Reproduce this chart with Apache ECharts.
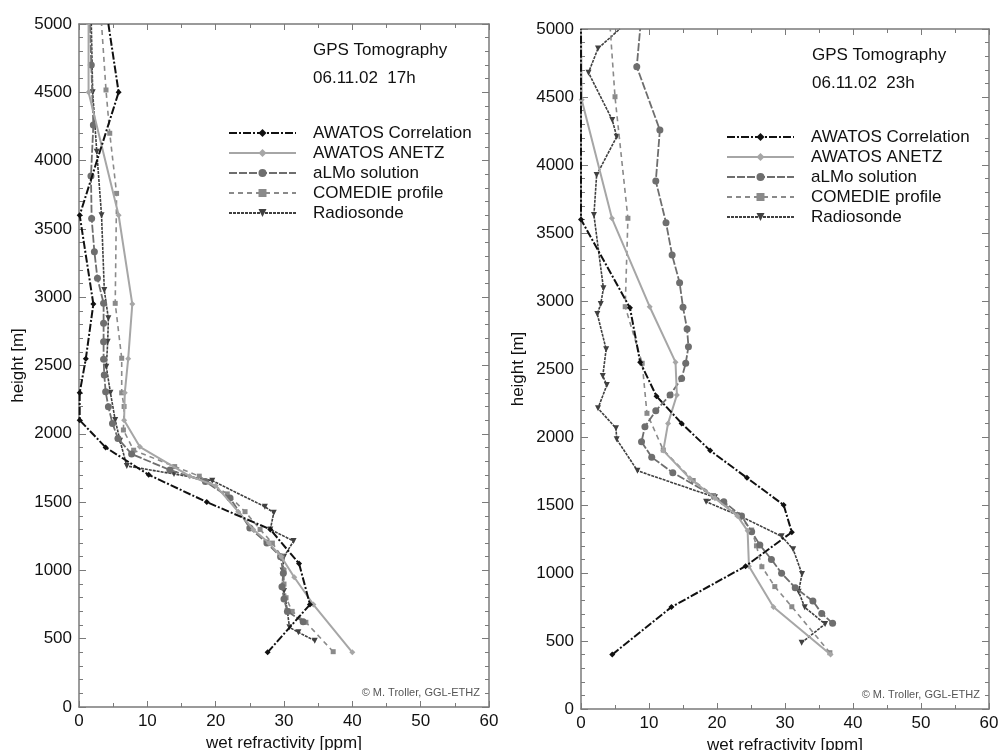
<!DOCTYPE html>
<html lang="en">
  <head>
    <meta charset="UTF-8" />
    <title>GPS Tomography</title>
    <script src="https://cdn.jsdelivr.net/npm/echarts@6/dist/echarts.min.js"></script>
  </head>
  <body style="margin: 0">
    <div id="main" style="width: 1001px; height: 750px"></div>

    <script>
      // 图例名称
      const seriesNames = ['AWATOS Correlation', 'AWATOS ANETZ', 'aLMo solution', 'COMEDIE profile', 'Radiosonde']
      const xTicks = [0, 10, 20, 30, 40, 50, 60]
      const yTicks = [0, 500, 1000, 1500, 2000, 2500, 3000, 3500, 4000, 4500, 5000]

      // 06.11.02 17h  [wet refractivity ppm, height m]
      const corr17 = [[27.6, 400], [33.8, 750], [32.2, 1050], [28.0, 1300], [18.7, 1500], [10.2, 1700], [3.9, 1900], [0.1, 2100], [0.1, 2300], [1.0, 2550], [2.1, 2950], [0.1, 3600], [5.8, 4500], [4.3, 5000]]
      const anetz17 = [[40.0, 400], [34.3, 750], [31.5, 950], [29.6, 1100], [27.8, 1200], [25.5, 1300], [23.3, 1430], [20.0, 1620], [16.2, 1690], [8.9, 1905], [6.6, 2100], [6.7, 2300], [7.2, 2550], [7.8, 2950], [5.8, 3600], [1.4, 4500], [1.4, 5000]]
      const almo17 = [[32.8, 625], [30.5, 700], [30.0, 790], [29.7, 880], [29.9, 980], [29.5, 1100], [27.5, 1200], [25.0, 1310], [22.1, 1530], [18.5, 1650], [13.3, 1735], [7.7, 1852], [5.7, 1966], [4.9, 2076], [4.3, 2198], [3.9, 2308], [3.7, 2430], [3.6, 2545], [3.6, 2674], [3.6, 2809], [3.6, 2955], [2.7, 3138], [2.25, 3333], [1.85, 3577], [1.75, 3887], [2.1, 4260], [1.8, 4700], [1.6, 5000]]
      const comedie17 = [[37.2, 405], [33.2, 620], [31.2, 700], [30.3, 800], [30.0, 900], [30.0, 1000], [29.7, 1100], [28.3, 1200], [26.5, 1300], [24.3, 1430], [21.7, 1560], [17.6, 1690], [14.0, 1760], [8.0, 1880], [6.5, 2028], [6.6, 2200], [6.25, 2300], [6.25, 2553], [5.3, 2955], [5.5, 3760], [4.5, 4200], [3.95, 4517], [3.3, 5000]]
      const sonde17 = [[34.5, 485], [32.1, 547], [30.8, 583], [30.5, 700], [30.0, 850], [29.8, 1000], [30.0, 1100], [31.4, 1215], [28.0, 1300], [28.5, 1422], [27.2, 1466], [19.5, 1657], [13.9, 1706], [7.0, 1764], [6.0, 1950], [5.3, 2101], [4.6, 2300], [4.0, 2490], [4.2, 2674], [4.3, 2845], [3.7, 3053], [3.3, 3600], [2.6, 4065], [2.0, 4500], [1.8, 5000]]

      // 06.11.02 23h
      const corr23 = [[4.6, 400], [13.3, 750], [24.2, 1050], [31.0, 1300], [29.8, 1500], [24.4, 1700], [19.0, 1900], [14.8, 2100], [11.1, 2300], [8.7, 2550], [7.2, 2950], [0, 3600], [0, 5000]]
      const anetz23 = [[36.7, 400], [28.3, 750], [24.7, 1050], [24.5, 1310], [23.0, 1420], [19.7, 1550], [16.0, 1696], [12.1, 1900], [12.8, 2100], [14.1, 2309], [13.9, 2550], [10.1, 2958], [4.55, 3608], [0.1, 4480], [0, 5000]]
      const almo23 = [[37.0, 630], [35.4, 703], [34.1, 794], [31.5, 892], [29.5, 998], [28.0, 1100], [26.3, 1206], [25.1, 1304], [23.6, 1419], [21.0, 1524], [13.5, 1738], [10.4, 1851], [8.9, 1965], [9.4, 2076], [11.0, 2193], [13.1, 2309], [14.8, 2431], [15.4, 2542], [15.8, 2664], [15.6, 2794], [15.0, 2954], [14.5, 3135], [13.4, 3338], [12.5, 3576], [11.0, 3882], [11.6, 4257], [8.2, 4723], [8.7, 5000]]
      const comedie23 = [[36.6, 414], [31.0, 752], [28.5, 900], [26.6, 1046], [25.8, 1200], [25.1, 1316], [23.0, 1430], [19.5, 1570], [16.5, 1680], [12.1, 1904], [9.7, 2174], [9.0, 2542], [6.5, 2958], [6.9, 3608], [5.0, 4502], [4.3, 5000]]
      const sonde23 = [[32.45, 488], [35.9, 625], [32.9, 748], [32.0, 863], [32.5, 993], [31.2, 1174], [29.5, 1270], [23.6, 1414], [18.4, 1524], [19.7, 1557], [8.3, 1752], [5.25, 1983], [5.15, 2064], [2.5, 2211], [3.8, 2382], [3.2, 2449], [3.7, 2645], [2.4, 2904], [2.9, 2978], [3.3, 3093], [1.9, 3632], [2.3, 3926], [5.25, 4208], [4.6, 4331], [1.1, 4679], [2.5, 4857], [5.7, 5000]]

      const font = "'Liberation Sans', Arial, sans-serif"
      const axisColor = '#7a7a7a'

      // 每条曲线的样式
      const styles = [
        { color: '#111', symbol: 'diamond', size: 6, width: 2, type: [8, 2, 2, 2] },
        { color: '#a6a6a6', symbol: 'diamond', size: 6, width: 2, type: 'solid' },
        { color: '#6e6e6e', symbol: 'circle', size: 7, width: 1.8, type: [8, 2] },
        { color: '#8a8a8a', symbol: 'rect', size: 5, width: 1.6, type: [5, 4] },
        { color: '#404040', symbol: 'triangle', size: 6, width: 1.6, type: [3, 1] },
      ]

      function xAxis(gridIndex, top) {
        return {
          type: 'value',
          gridIndex: gridIndex,
          position: top ? 'top' : 'bottom',
          min: xTicks[0],
          max: xTicks[xTicks.length - 1],
          interval: xTicks[1] - xTicks[0],
          axisLine: { show: true, onZero: false, lineStyle: { color: axisColor, width: 1.5 } },
          axisTick: { inside: true, length: 6, lineStyle: { color: axisColor } },
          minorTick: { show: true, splitNumber: 2, length: 4, lineStyle: { color: axisColor } },
          splitLine: { show: false },
          axisLabel: { show: !top, color: '#111', fontSize: 17, fontFamily: font, margin: 6 },
          name: top ? '' : 'wet refractivity [ppm]',
          nameLocation: 'middle',
          nameGap: 26,
          nameTextStyle: { color: '#111', fontSize: 17, fontFamily: font },
        }
      }

      function yAxis(gridIndex, right, gap) {
        return {
          type: 'value',
          gridIndex: gridIndex,
          position: right ? 'right' : 'left',
          min: yTicks[0],
          max: yTicks[yTicks.length - 1],
          interval: yTicks[1] - yTicks[0],
          axisLine: { show: true, onZero: false, lineStyle: { color: axisColor, width: 1.5 } },
          axisTick: { inside: true, length: 7, lineStyle: { color: axisColor } },
          minorTick: { show: true, splitNumber: 5, length: 4, lineStyle: { color: axisColor } },
          splitLine: { show: false },
          axisLabel: { show: !right, color: '#111', fontSize: 17, fontFamily: font, margin: 7, formatter: v => String(v) },
          name: right ? '' : 'height [m]',
          nameLocation: 'middle',
          nameGap: gap,
          nameTextStyle: { color: '#111', fontSize: 17, fontFamily: font },
        }
      }

      function makeSeries(data, i, axisIndex) {
        const s = styles[i]
        return {
          name: seriesNames[i],
          type: 'line',
          xAxisIndex: axisIndex,
          yAxisIndex: axisIndex,
          // 顶边上的点不画标记
          data: data.map(p => (p[1] >= 5000 ? { value: p, symbol: 'none' } : p)),
          symbol: s.symbol,
          symbolSize: s.size,
          symbolRotate: s.symbol === 'triangle' ? 180 : 0,
          itemStyle: { color: s.color },
          lineStyle: { color: s.color, width: s.width, type: s.type },
          clip: true,
          z: 5 - i,
        }
      }

      function legend(left, top) {
        return {
          data: seriesNames,
          orient: 'vertical',
          left: left,
          top: top,
          padding: 0,
          itemGap: 0,
          itemWidth: 67,
          itemHeight: 10,
          selectedMode: false,
          textStyle: { color: '#111', fontSize: 17, fontFamily: font, lineHeight: 20, padding: [0, 0, 0, 12] },
        }
      }

      const titleStyle = { color: '#111', fontSize: 17, fontWeight: 'normal', fontFamily: font, lineHeight: 28 }
      const noteStyle = { color: '#555', fontSize: 11, fontWeight: 'normal', fontFamily: font }

      const myChart = echarts.init(document.getElementById('main'))
      const options = {
        animation: false,
        backgroundColor: '#fff',
        title: [
          { text: 'GPS Tomography\n06.11.02  17h', left: 313, top: 36, padding: 0, textStyle: titleStyle },
          { text: 'GPS Tomography\n06.11.02  23h', left: 812, top: 41, padding: 0, textStyle: titleStyle },
          { text: '© M. Troller, GGL-ETHZ', right: 521, top: 687, padding: 0, textStyle: noteStyle },
          { text: '© M. Troller, GGL-ETHZ', right: 21, top: 689, padding: 0, textStyle: noteStyle },
        ],
        legend: [legend(228, 123), legend(726, 127)],
        // 关闭自动收缩, 让坐标轴名称可以超出画布
        grid: [
          { left: 79, top: 24, width: 410, height: 683, outerBoundsMode: 'none' },
          { left: 581, top: 29, width: 408, height: 680, outerBoundsMode: 'none' },
        ],
        xAxis: [xAxis(0, false), xAxis(0, true), xAxis(1, false), xAxis(1, true)],
        yAxis: [yAxis(0, false, 52), yAxis(0, true, 0), yAxis(1, false, 54), yAxis(1, true, 0)],
        series: [
          makeSeries(corr17, 0, 0),
          makeSeries(anetz17, 1, 0),
          makeSeries(almo17, 2, 0),
          makeSeries(comedie17, 3, 0),
          makeSeries(sonde17, 4, 0),
          makeSeries(corr23, 0, 2),
          makeSeries(anetz23, 1, 2),
          makeSeries(almo23, 2, 2),
          makeSeries(comedie23, 3, 2),
          makeSeries(sonde23, 4, 2),
        ],
      }
      myChart.setOption(options)
    </script>
  </body>
</html>
